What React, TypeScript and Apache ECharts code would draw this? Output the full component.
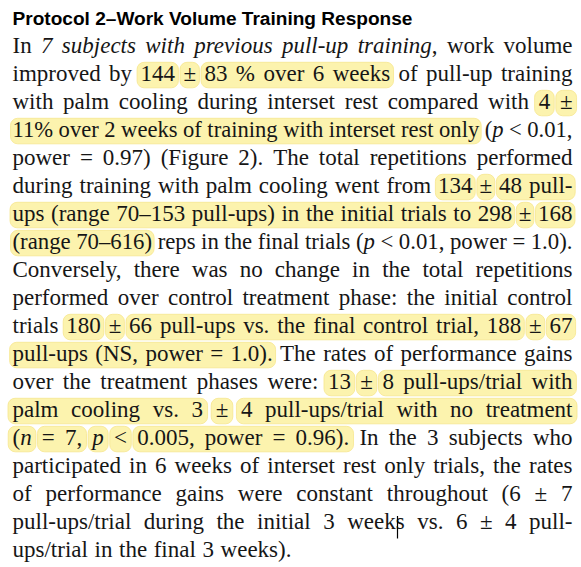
import React, { useEffect, useRef } from 'react';
import * as echarts from 'echarts';

// ---- content ----
const TITLE = 'Protocol 2–Work Volume Training Response';
// [ ... ] marks a highlighted span, _ ... _ toggles italic
const LINES: string[] = [
  'In _7 subjects with previous pull-up training_, work volume',
  'improved by [144] [±] [83 % over 6 weeks] of pull-up training',
  'with palm cooling during interset rest compared with [4] [±]',
  '[11% over 2 weeks of training with interset rest only] (_p_ < 0.01,',
  'power = 0.97) (Figure 2). The total repetitions performed',
  'during training with palm cooling went from [134] [±] [48 pull-]',
  '[ups (range 70–153 pull-ups) in the initial trials to 298] [±] [168]',
  '[(range 70–616)] reps in the final trials (_p_ < 0.01, power = 1.0).',
  'Conversely, there was no change in the total repetitions',
  'performed over control treatment phase: the initial control',
  'trials [180] [±] [66 pull-ups vs. the final control trial, 188] [±] [67]',
  '[pull-ups (NS, power = 1.0).] The rates of performance gains',
  'over the treatment phases were: [13] [±] [8 pull-ups/trial with]',
  '[palm cooling vs. 3] [±] [4 pull-ups/trial with no treatment]',
  '[(_n_] [= 7,] [_p_] [<] [0.005, power = 0.96).] In the 3 subjects who',
  'participated in 6 weeks of interset rest only trials, the rates',
  'of performance gains were constant throughout (6 ± 7',
  'pull-ups/trial during the initial 3 weeks vs. 6 ± 4 pull-',
  'ups/trial in the final 3 weeks).',
];

// ---- layout constants ----
const LEFT = 12.5;
const RIGHT = 572.5;
const FIRST_BASELINE = 52.8;
const LINE_STEP = 28.0;
const BODY_SIZE = 23;
const BODY_FAMILY = '"Liberation Serif", serif';
const TITLE_SIZE = 18.5;
const TITLE_FAMILY = '"Liberation Sans", Arial, sans-serif';
const TITLE_BASELINE = 25.2;
const TITLE_RIGHT = 413;
const TEXT_COLOR = '#161616';
const HL_FILL = '#fcf3ae';
const HL_STROKE = '#f6e68e';
const MIN_GAP = 5.5;
// offset from central baseline (dominant-baseline: central) to alphabetic baseline
const CENTRAL_OFFSET = 0.3375;

type Run = { text: string; italic: boolean };
type Word = { runs: Run[]; group: number | null };

function parseLine(src: string): Word[] {
  const words: Word[] = [];
  let italic = false;
  let group: number | null = null;
  let gid = 0;
  let cur: Word | null = null;
  let buf = '';
  const flush = () => {
    if (buf && cur) cur.runs.push({ text: buf, italic });
    buf = '';
  };
  for (const ch of src) {
    if (ch === ' ') {
      flush();
      if (cur) words.push(cur);
      cur = null;
      continue;
    }
    if (!cur) cur = { runs: [], group };
    if (ch === '_') { flush(); italic = !italic; continue; }
    if (ch === '[') { gid++; group = gid; cur.group = group; continue; }
    if (ch === ']') { flush(); group = null; continue; }
    buf += ch;
  }
  flush();
  if (cur) words.push(cur);
  return words;
}

function buildGraphics(): any[] {
  const canvas = document.createElement('canvas');
  const ctx = canvas.getContext('2d')!;
  const fontStr = (italic: boolean, bold: boolean, size: number, fam: string) =>
    `${italic ? 'italic ' : ''}${bold ? 'bold ' : ''}${size}px ${fam}`;
  const measure = (t: string, italic: boolean) => {
    ctx.font = fontStr(italic, false, BODY_SIZE, BODY_FAMILY);
    return ctx.measureText(t).width;
  };

  const hl: any[] = [];
  const texts: any[] = [];

  // title
  ctx.font = fontStr(false, true, TITLE_SIZE, TITLE_FAMILY);
  const tW = ctx.measureText(TITLE).width;
  const tScale = (TITLE_RIGHT - LEFT) / tW;
  texts.push({
    type: 'text',
    x: LEFT,
    y: TITLE_BASELINE - CENTRAL_OFFSET * TITLE_SIZE * 1.018,
    scaleX: tScale,
    silent: true,
    style: {
      text: TITLE,
      fontSize: TITLE_SIZE,
      fontWeight: 'bold',
      fontFamily: TITLE_FAMILY,
      fill: '#000',
      textAlign: 'left',
      verticalAlign: 'middle',
    },
  });

  const avail = RIGHT - LEFT;
  LINES.forEach((src, li) => {
    const words = parseLine(src);
    const baseline = FIRST_BASELINE + li * LINE_STEP;
    const widths = words.map((w) => w.runs.map((r) => measure(r.text, r.italic)));
    const wordW = widths.map((a) => a.reduce((s, v) => s + v, 0));
    const total = wordW.reduce((s, v) => s + v, 0);
    const n = words.length;
    const isLast = li === LINES.length - 1;
    let scale = 1;
    let gap = measure(' ', false) * 1.15;
    if (!isLast && n > 1) {
      gap = (avail - total) / (n - 1);
      if (gap < MIN_GAP) {
        scale = (avail - MIN_GAP * (n - 1)) / total;
        gap = MIN_GAP;
      }
    }
    let x = LEFT;
    const boxes: { x: number; w: number; g: number | null }[] = [];
    words.forEach((w, wi) => {
      let rx = x;
      w.runs.forEach((r, ri) => {
        texts.push({
          type: 'text',
          x: rx,
          y: baseline - CENTRAL_OFFSET * BODY_SIZE,
          scaleX: scale,
          silent: true,
          style: {
            text: r.text,
            fontSize: BODY_SIZE,
            fontFamily: BODY_FAMILY,
            fontStyle: r.italic ? 'italic' : 'normal',
            fill: TEXT_COLOR,
            textAlign: 'left',
            verticalAlign: 'middle',
          },
        });
        rx += widths[wi][ri] * scale;
      });
      boxes.push({ x, w: wordW[wi] * scale, g: w.group });
      x += wordW[wi] * scale + gap;
    });
    // highlight rectangles, one per group
    const pad = Math.min(4.5, gap / 2 - 0.8);
    const groups = new Map<number, { x0: number; x1: number }>();
    boxes.forEach((b) => {
      if (b.g == null) return;
      const e = groups.get(b.g);
      if (!e) groups.set(b.g, { x0: b.x, x1: b.x + b.w });
      else e.x1 = b.x + b.w;
    });
    groups.forEach((e) => {
      hl.push({
        type: 'rect',
        silent: true,
        shape: { x: e.x0 - pad, y: baseline - 18.5, width: e.x1 - e.x0 + pad * 2, height: 25.5, r: 7 },
        style: { fill: HL_FILL, stroke: HL_STROKE, lineWidth: 0.8 },
      });
    });
  });

  // text cursor (I-beam)
  const cursor = [
    { type: 'line', silent: true, shape: { x1: 397.5, y1: 516, x2: 397.5, y2: 538.5 }, style: { stroke: '#000', lineWidth: 1.2 } },
  ];

  return [...hl, ...texts, ...cursor];
}

export default function App() {
  const ref = useRef<HTMLDivElement>(null);
  useEffect(() => {
    if (!ref.current) return;
    const chart = echarts.init(ref.current, undefined, { renderer: 'svg' });
    chart.setOption({
      animation: false,
      backgroundColor: '#ffffff',
      graphic: { elements: buildGraphics() },
    });
    return () => chart.dispose();
  }, []);
  return (
    <div
      ref={ref}
      style={{ position: 'fixed', left: 0, top: 0, width: 581, height: 567, background: '#fff' }}
    />
  );
}
